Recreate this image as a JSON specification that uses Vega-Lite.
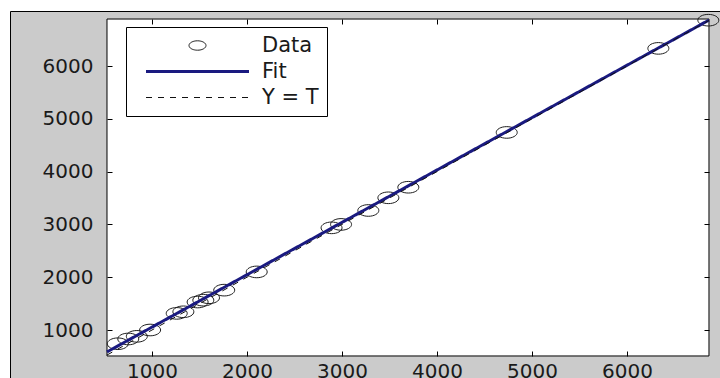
{
  "$schema": "https://vega.github.io/schema/vega-lite/v6.json",
  "width": 710,
  "height": 367,
  "autosize": "none",
  "padding": {"left": 10, "top": 11, "right": 0, "bottom": 0},
  "background": "white",
  "view": {"fill": "#cbcbcb", "stroke": "black", "strokeWidth": 1},
  "config": {
    "axis": {
      "labelFont": "DejaVu Sans",
      "labelFontSize": 20,
      "labelColor": "#1a1a1a",
      "domain": false,
      "grid": false,
      "tickColor": "black",
      "tickSize": 5,
      "tickWidth": 1,
      "zindex": 2,
      "title": null
    },
    "legend": {
      "labelFont": "DejaVu Sans",
      "labelFontSize": 21,
      "labelColor": "#1a1a1a"
    }
  },
  "datasets": {
    "limits": [{"tmin": 526, "tmax": 6863, "ymin": 508, "ymax": 6890}],
    "points": [
      {"T": 640, "Y": 740, "series": "Data"},
      {"T": 750, "Y": 830, "series": "Data"},
      {"T": 840, "Y": 880, "series": "Data"},
      {"T": 980, "Y": 1000, "series": "Data"},
      {"T": 1260, "Y": 1315, "series": "Data"},
      {"T": 1330, "Y": 1345, "series": "Data"},
      {"T": 1480, "Y": 1530, "series": "Data"},
      {"T": 1540, "Y": 1565, "series": "Data"},
      {"T": 1600, "Y": 1610, "series": "Data"},
      {"T": 1760, "Y": 1755, "series": "Data"},
      {"T": 2102, "Y": 2100, "series": "Data"},
      {"T": 2890, "Y": 2935, "series": "Data"},
      {"T": 2990, "Y": 3000, "series": "Data"},
      {"T": 3277, "Y": 3264, "series": "Data"},
      {"T": 3488, "Y": 3504, "series": "Data"},
      {"T": 3698, "Y": 3704, "series": "Data"},
      {"T": 4734, "Y": 4742, "series": "Data"},
      {"T": 6330, "Y": 6334, "series": "Data"},
      {"T": 6856, "Y": 6868, "series": "Data"}
    ],
    "lines": [
      {"T": 526, "Y": 585, "series": "Fit"},
      {"T": 6863, "Y": 6870, "series": "Fit"},
      {"T": 526, "Y": 526, "series": "Y = T"},
      {"T": 6863, "Y": 6863, "series": "Y = T"}
    ]
  },
  "resolve": {"axis": {"x": "independent", "y": "independent"}},
  "layer": [
    {
      "data": {"name": "limits"},
      "mark": {"type": "rect", "fill": "white", "stroke": "black", "strokeWidth": 1},
      "encoding": {
        "x": {"field": "tmin", "type": "quantitative", "scale": {"domain": [-495, 6979], "nice": false, "zero": false},
              "axis": {"orient": "bottom", "offset": -27, "labelPadding": 5, "zindex": 2, "values": [1000, 2000, 3000, 4000, 5000, 6000], "format": "d"}},
        "x2": {"field": "tmax"},
        "y": {"field": "ymin", "type": "quantitative", "scale": {"domain": [91, 7042], "nice": false, "zero": false},
              "axis": {"orient": "left", "offset": -102, "labelPadding": 14, "zindex": 2, "values": [1000, 2000, 3000, 4000, 5000, 6000], "format": "d"}},
        "y2": {"field": "ymax"}
      }
    },
    {
      "data": {"name": "points"},
      "mark": {"type": "point", "filled": false, "size": 610, "strokeWidth": 1, "opacity": 1},
      "encoding": {
        "x": {"field": "T", "type": "quantitative", "scale": {"domain": [-495, 6979], "nice": false, "zero": false},
              "axis": {"orient": "top", "offset": -13, "labels": false, "zindex": 2, "values": [1000, 2000, 3000, 4000, 5000, 6000]}},
        "y": {"field": "Y", "type": "quantitative", "scale": {"domain": [91, 7042], "nice": false, "zero": false},
              "axis": {"orient": "right", "offset": -16, "labels": false, "zindex": 2, "values": [1000, 2000, 3000, 4000, 5000, 6000]}},
        "color": {"field": "series", "type": "nominal",
                  "scale": {"domain": ["Data", "Fit", "Y = T"], "range": ["#1e1e1e", "#1a1a80", "#111111"]},
                  "legend": {"orient": "none", "legendX": 116, "legendY": 16, "title": null, "strokeColor": "black", "fillColor": "white",
                             "padding": 8, "symbolSize": 400, "symbolOffset": 52, "labelOffset": 53, "rowPadding": 4}},
        "shape": {"field": "series", "type": "nominal",
                  "scale": {"domain": ["Data", "Fit", "Y = T"], "range": [
                    "M -0.85 0 C -0.85 -0.26 -0.469 -0.47 0 -0.47 C 0.469 -0.47 0.85 -0.26 0.85 0 C 0.85 0.26 0.469 0.47 0 0.47 C -0.469 0.47 -0.85 0.26 -0.85 0 Z",
                    "M -5.15 0 L 5.15 0",
                    "M -5.15 0 L 5.15 0"]}}
      }
    },
    {
      "data": {"name": "lines"},
      "mark": {"type": "line"},
      "encoding": {
        "x": {"field": "T", "type": "quantitative", "axis": null},
        "y": {"field": "Y", "type": "quantitative", "axis": null},
        "color": {"field": "series", "type": "nominal"},
        "strokeDash": {"field": "series", "type": "nominal",
                       "scale": {"domain": ["Data", "Fit", "Y = T"], "range": [[1, 0], [1, 0], [6, 6]]}},
        "strokeWidth": {"field": "series", "type": "nominal",
                        "scale": {"type": "ordinal", "domain": ["Data", "Fit", "Y = T"], "range": [1, 3, 1]}}
      }
    }
  ]
}
